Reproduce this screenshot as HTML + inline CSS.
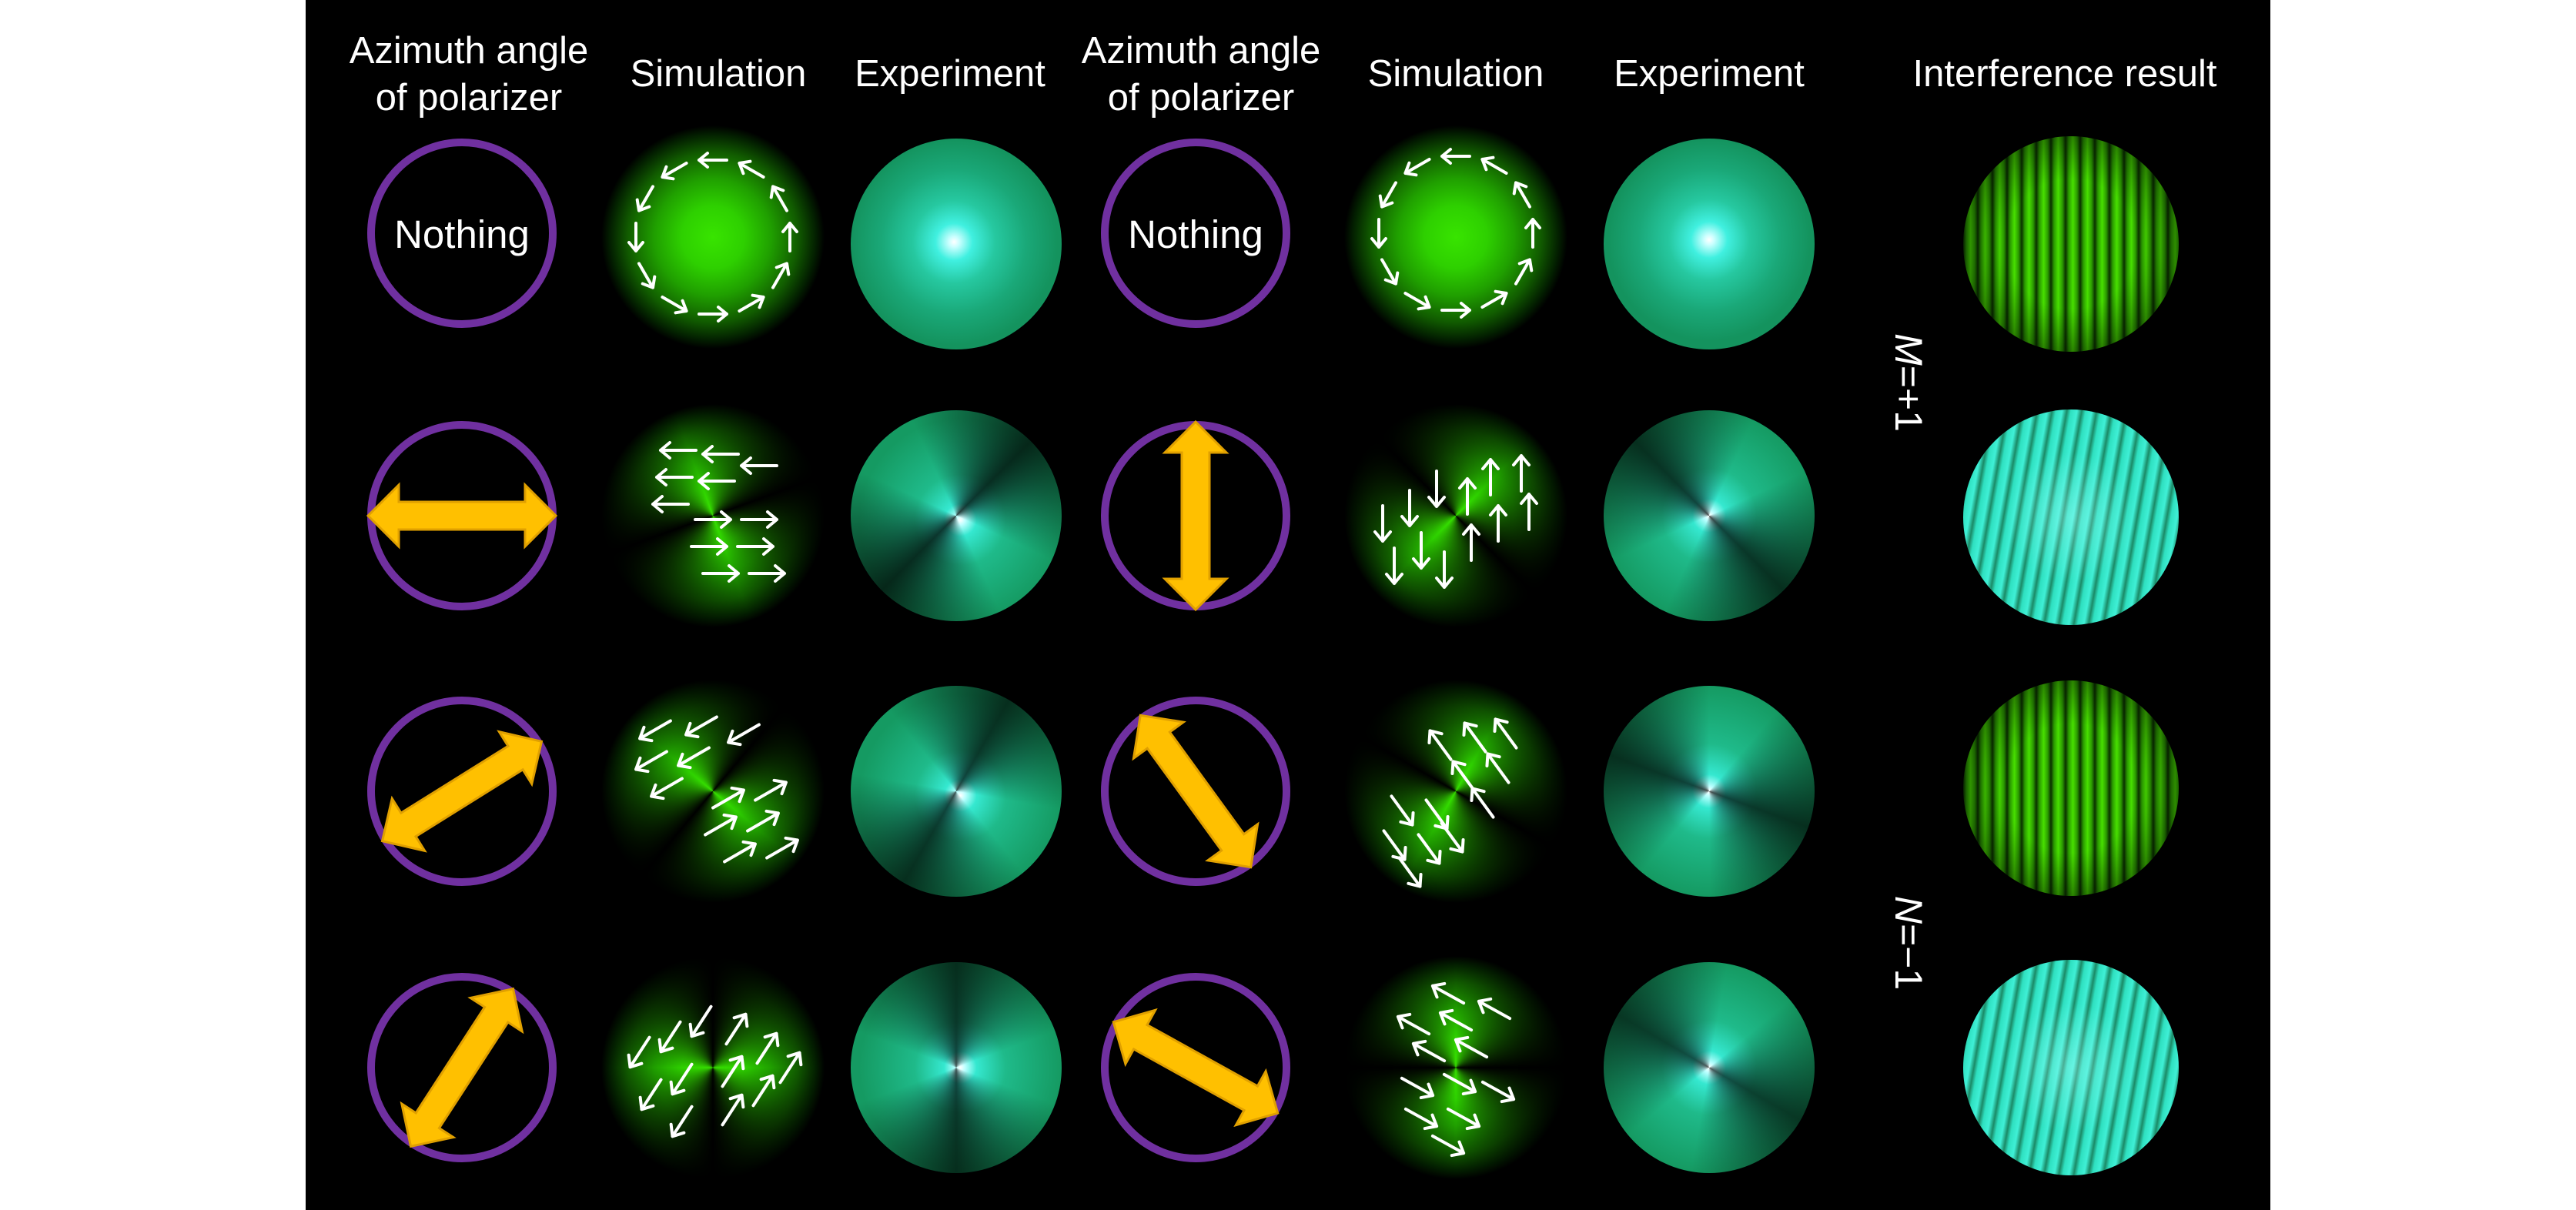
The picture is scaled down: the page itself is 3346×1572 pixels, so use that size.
<!DOCTYPE html>
<html><head><meta charset="utf-8"><style>
html,body{margin:0;padding:0;background:#fff;}
#p{position:relative;width:3346px;height:1572px;overflow:hidden;background:#fff;}
#bk{position:absolute;left:397px;top:0;width:2552px;height:1572px;background:#000;}
.d{position:absolute;border-radius:50%;}
.sim{width:290px;height:290px;background:radial-gradient(circle closest-side,#38e400 0%,#2ed000 28%,#20a000 52%,#115c00 76%,#032000 92%,#000 100%);}
.exp{width:274px;height:274px;}
.ifs{width:280px;height:280px;background:radial-gradient(circle closest-side,rgba(0,0,0,0) 60%,rgba(0,0,0,.4) 100%),repeating-linear-gradient(90deg,#0a3000 0,#2a9a00 4px,#48e000 9.5px,#2a9a00 15px,#0a3000 19px);}
.ife{width:280px;height:280px;background:radial-gradient(circle closest-side,rgba(180,255,255,.35) 0,rgba(0,0,0,0) 60%),repeating-linear-gradient(100deg,#1a8a66 0,#2fe0c0 5px,#3ff0d6 13px,#1a8a66 19px);}
svg{position:absolute;left:0;top:0;}
</style></head><body><div id="p"><div id="bk"></div>
<div class="d sim" style="left:781px;top:163px;"></div>
<div class="d sim" style="left:781px;top:525px;-webkit-mask-image:conic-gradient(from 70deg,rgba(0,0,0,0) 0deg,#000 90deg,rgba(0,0,0,0) 180deg,#000 270deg,rgba(0,0,0,0) 360deg);mask-image:conic-gradient(from 70deg,rgba(0,0,0,0) 0deg,#000 90deg,rgba(0,0,0,0) 180deg,#000 270deg,rgba(0,0,0,0) 360deg);"></div>
<div class="d sim" style="left:781px;top:883px;-webkit-mask-image:conic-gradient(from 40deg,rgba(0,0,0,0) 0deg,#000 90deg,rgba(0,0,0,0) 180deg,#000 270deg,rgba(0,0,0,0) 360deg);mask-image:conic-gradient(from 40deg,rgba(0,0,0,0) 0deg,#000 90deg,rgba(0,0,0,0) 180deg,#000 270deg,rgba(0,0,0,0) 360deg);"></div>
<div class="d sim" style="left:781px;top:1242px;-webkit-mask-image:conic-gradient(from 0deg,rgba(0,0,0,0) 0deg,#000 90deg,rgba(0,0,0,0) 180deg,#000 270deg,rgba(0,0,0,0) 360deg);mask-image:conic-gradient(from 0deg,rgba(0,0,0,0) 0deg,#000 90deg,rgba(0,0,0,0) 180deg,#000 270deg,rgba(0,0,0,0) 360deg);"></div>
<div class="d sim" style="left:1746px;top:163px;"></div>
<div class="d sim" style="left:1746px;top:525px;-webkit-mask-image:conic-gradient(from 135deg,rgba(0,0,0,0) 0deg,#000 90deg,rgba(0,0,0,0) 180deg,#000 270deg,rgba(0,0,0,0) 360deg);mask-image:conic-gradient(from 135deg,rgba(0,0,0,0) 0deg,#000 90deg,rgba(0,0,0,0) 180deg,#000 270deg,rgba(0,0,0,0) 360deg);"></div>
<div class="d sim" style="left:1746px;top:883px;-webkit-mask-image:conic-gradient(from 120deg,rgba(0,0,0,0) 0deg,#000 90deg,rgba(0,0,0,0) 180deg,#000 270deg,rgba(0,0,0,0) 360deg);mask-image:conic-gradient(from 120deg,rgba(0,0,0,0) 0deg,#000 90deg,rgba(0,0,0,0) 180deg,#000 270deg,rgba(0,0,0,0) 360deg);"></div>
<div class="d sim" style="left:1746px;top:1242px;-webkit-mask-image:conic-gradient(from 90deg,rgba(0,0,0,0) 0deg,#000 90deg,rgba(0,0,0,0) 180deg,#000 270deg,rgba(0,0,0,0) 360deg);mask-image:conic-gradient(from 90deg,rgba(0,0,0,0) 0deg,#000 90deg,rgba(0,0,0,0) 180deg,#000 270deg,rgba(0,0,0,0) 360deg);"></div>
<div class="d exp" style="left:1105px;top:180px;background:radial-gradient(circle closest-side at 49% 49%,#fff 0,#cff 5%,#40f0e0 18%,#26c8a0 40%,#1aa878 70%,#14935e 100%);"></div>
<div class="d exp" style="left:1105px;top:533px;background:conic-gradient(from 45deg,rgba(0,0,0,.75) 0deg,rgba(0,0,0,0) 70deg,rgba(0,0,0,0) 110deg,rgba(0,0,0,.75) 180deg,rgba(0,0,0,0) 250deg,rgba(0,0,0,0) 290deg,rgba(0,0,0,.75) 360deg),radial-gradient(circle closest-side at 52% 52%,#fff 0,#bff 5%,#35e8d0 16%,#1fba8a 45%,#159a62 100%);"></div>
<div class="d exp" style="left:1105px;top:891px;background:conic-gradient(from 30deg,rgba(0,0,0,.7) 0deg,rgba(0,0,0,0) 70deg,rgba(0,0,0,0) 110deg,rgba(0,0,0,.7) 180deg,rgba(0,0,0,0) 250deg,rgba(0,0,0,0) 290deg,rgba(0,0,0,.7) 360deg),radial-gradient(circle closest-side at 52% 52%,#fff 0,#bff 5%,#35e8d0 16%,#1fba8a 45%,#159a62 100%);"></div>
<div class="d exp" style="left:1105px;top:1250px;background:conic-gradient(from 0deg,rgba(0,0,0,.7) 0deg,rgba(0,0,0,0) 70deg,rgba(0,0,0,0) 110deg,rgba(0,0,0,.7) 180deg,rgba(0,0,0,0) 250deg,rgba(0,0,0,0) 290deg,rgba(0,0,0,.7) 360deg),radial-gradient(circle closest-side at 52% 50%,#fff 0,#bff 5%,#35e8d0 16%,#1fba8a 45%,#159a62 100%);"></div>
<div class="d exp" style="left:2083px;top:180px;background:radial-gradient(circle closest-side at 50% 48%,#fff 0,#cff 5%,#40f0e0 18%,#26c8a0 40%,#1aa878 70%,#14935e 100%);"></div>
<div class="d exp" style="left:2083px;top:533px;background:conic-gradient(from 315deg,rgba(0,0,0,.7) 0deg,rgba(0,0,0,0) 70deg,rgba(0,0,0,0) 110deg,rgba(0,0,0,.7) 180deg,rgba(0,0,0,0) 250deg,rgba(0,0,0,0) 290deg,rgba(0,0,0,.7) 360deg),radial-gradient(circle closest-side at 50% 50%,#fff 0,#bff 5%,#35e8d0 16%,#1fba8a 45%,#159a62 100%);"></div>
<div class="d exp" style="left:2083px;top:891px;background:conic-gradient(from 290deg,rgba(0,0,0,.7) 0deg,rgba(0,0,0,0) 70deg,rgba(0,0,0,0) 110deg,rgba(0,0,0,.7) 180deg,rgba(0,0,0,0) 250deg,rgba(0,0,0,0) 290deg,rgba(0,0,0,.7) 360deg),radial-gradient(circle closest-side at 50% 50%,#fff 0,#bff 5%,#35e8d0 16%,#1fba8a 45%,#159a62 100%);"></div>
<div class="d exp" style="left:2083px;top:1250px;background:conic-gradient(from 300deg,rgba(0,0,0,.65) 0deg,rgba(0,0,0,0) 70deg,rgba(0,0,0,0) 110deg,rgba(0,0,0,.65) 180deg,rgba(0,0,0,0) 250deg,rgba(0,0,0,0) 290deg,rgba(0,0,0,.65) 360deg),radial-gradient(circle closest-side at 50% 50%,#fff 0,#bff 5%,#35e8d0 16%,#1fba8a 45%,#159a62 100%);"></div>
<div class="d ifs" style="left:2550px;top:177px;"></div>
<div class="d ife" style="left:2550px;top:532px;"></div>
<div class="d ifs" style="left:2550px;top:884px;"></div>
<div class="d ife" style="left:2550px;top:1247px;"></div>

<svg width="3346" height="1572" viewBox="0 0 3346 1572">
<defs>
<g id="a"><path d="M-23 0H23M11-10L23 0L11 10" fill="none" stroke="#fff" stroke-width="4" stroke-linecap="round" stroke-linejoin="round"/></g>
<g id="b"><path d="M-18 0H18M7-9L18 0L7 9" fill="none" stroke="#fff" stroke-width="4" stroke-linecap="round" stroke-linejoin="round"/></g>
<polygon id="y" points="-122,0 -82,-40 -82,-18 82,-18 82,-40 122,0 82,40 82,18 -82,18 -82,40" fill="#ffc000" stroke="#e0a000" stroke-width="3"/>
<g id="r"><use href="#b" transform="translate(100,0) rotate(-90)"/><use href="#b" transform="translate(87,50) rotate(-60)"/><use href="#b" transform="translate(50,87) rotate(-30)"/><use href="#b" transform="translate(0,100)"/><use href="#b" transform="translate(-50,87) rotate(30)"/><use href="#b" transform="translate(-87,50) rotate(60)"/><use href="#b" transform="translate(-100,0) rotate(90)"/><use href="#b" transform="translate(-87,-50) rotate(120)"/><use href="#b" transform="translate(-50,-87) rotate(150)"/><use href="#b" transform="translate(0,-100) rotate(180)"/><use href="#b" transform="translate(50,-87) rotate(210)"/><use href="#b" transform="translate(87,-50) rotate(240)"/></g>
</defs>
<g font-family="Liberation Sans, Arial, sans-serif" fill="#fff" font-size="49" text-anchor="middle">
<text x="609" y="82">Azimuth angle</text><text x="609" y="143">of polarizer</text>
<text x="933" y="112">Simulation</text><text x="1234" y="112">Experiment</text>
<text x="1560" y="82">Azimuth angle</text><text x="1560" y="143">of polarizer</text>
<text x="1891" y="112">Simulation</text><text x="2220" y="112">Experiment</text>
<text x="2682" y="112">Interference result</text>
<text x="600" y="322" font-size="51">Nothing</text>
<text x="1553" y="322" font-size="51">Nothing</text>
<text transform="translate(2462,497) rotate(90)" font-size="50"><tspan font-style="italic">M</tspan>=+1</text>
<text transform="translate(2462,1225) rotate(90)" font-size="50"><tspan font-style="italic">N</tspan>=−1</text>
</g>
<g fill="none" stroke="#7030a0" stroke-width="10">
<circle cx="600" cy="303" r="118"/><circle cx="600" cy="670" r="118"/><circle cx="600" cy="1028" r="118"/><circle cx="600" cy="1387" r="118"/>
<circle cx="1553" cy="303" r="118"/><circle cx="1553" cy="670" r="118"/><circle cx="1553" cy="1028" r="118"/><circle cx="1553" cy="1387" r="118"/>
</g>
<use href="#y" transform="translate(600,670)"/>
<use href="#y" transform="translate(600,1028) rotate(-32)"/>
<use href="#y" transform="translate(600,1387) rotate(-57)"/>
<use href="#y" transform="translate(1553,670) rotate(90)"/>
<use href="#y" transform="translate(1553,1028) rotate(54)"/>
<use href="#y" transform="translate(1553,1387) rotate(29)"/>
<use href="#r" transform="translate(926,308)"/>
<use href="#r" transform="translate(1891,303)"/>
<g transform="translate(926,670)">
<use href="#a" transform="translate(-45,-85) rotate(180)"/><use href="#a" transform="translate(10,-80) rotate(180)"/><use href="#a" transform="translate(-50,-50) rotate(180)"/><use href="#a" transform="translate(5,-45) rotate(180)"/><use href="#a" transform="translate(-55,-15) rotate(180)"/><use href="#a" transform="translate(60,-65) rotate(180)"/>
<use href="#a" transform="translate(0,5)"/><use href="#a" transform="translate(60,5)"/><use href="#a" transform="translate(-5,40)"/><use href="#a" transform="translate(55,40)"/><use href="#a" transform="translate(10,75)"/><use href="#a" transform="translate(70,75)"/>
</g>
<g transform="translate(926,1028)">
<use href="#a" transform="translate(-75,-80) rotate(150)"/><use href="#a" transform="translate(-15,-85) rotate(150)"/><use href="#a" transform="translate(-80,-40) rotate(150)"/><use href="#a" transform="translate(-25,-45) rotate(150)"/><use href="#a" transform="translate(-60,-5) rotate(150)"/><use href="#a" transform="translate(40,-75) rotate(150)"/>
<use href="#a" transform="translate(20,10) rotate(-30)"/><use href="#a" transform="translate(75,0) rotate(-30)"/><use href="#a" transform="translate(10,45) rotate(-30)"/><use href="#a" transform="translate(65,40) rotate(-30)"/><use href="#a" transform="translate(35,80) rotate(-30)"/><use href="#a" transform="translate(90,75) rotate(-30)"/>
</g>
<g transform="translate(926,1387)">
<use href="#a" transform="translate(-95,-20) rotate(123)"/><use href="#a" transform="translate(-55,-40) rotate(123)"/><use href="#a" transform="translate(-15,-60) rotate(123)"/><use href="#a" transform="translate(-80,35) rotate(123)"/><use href="#a" transform="translate(-40,15) rotate(123)"/><use href="#a" transform="translate(-40,70) rotate(123)"/>
<use href="#a" transform="translate(30,-50) rotate(-57)"/><use href="#a" transform="translate(70,-25) rotate(-57)"/><use href="#a" transform="translate(25,5) rotate(-57)"/><use href="#a" transform="translate(65,30) rotate(-57)"/><use href="#a" transform="translate(100,0) rotate(-57)"/><use href="#a" transform="translate(25,55) rotate(-57)"/>
</g>
<g transform="translate(1891,670)">
<use href="#a" transform="translate(-95,10) rotate(90)"/><use href="#a" transform="translate(-60,-10) rotate(90)"/><use href="#a" transform="translate(-25,-35) rotate(90)"/><use href="#a" transform="translate(-80,65) rotate(90)"/><use href="#a" transform="translate(-45,45) rotate(90)"/><use href="#a" transform="translate(-15,70) rotate(90)"/>
<use href="#a" transform="translate(15,-25) rotate(-90)"/><use href="#a" transform="translate(45,-50) rotate(-90)"/><use href="#a" transform="translate(85,-55) rotate(-90)"/><use href="#a" transform="translate(20,35) rotate(-90)"/><use href="#a" transform="translate(55,10) rotate(-90)"/><use href="#a" transform="translate(95,-5) rotate(-90)"/>
</g>
<g transform="translate(1891,1028)">
<use href="#a" transform="translate(-20,-60) rotate(-126)"/><use href="#a" transform="translate(25,-70) rotate(-126)"/><use href="#a" transform="translate(65,-75) rotate(-126)"/><use href="#a" transform="translate(10,-20) rotate(-126)"/><use href="#a" transform="translate(55,-30) rotate(-126)"/><use href="#a" transform="translate(35,15) rotate(-126)"/>
<use href="#a" transform="translate(-70,25) rotate(54)"/><use href="#a" transform="translate(-25,30) rotate(54)"/><use href="#a" transform="translate(-80,70) rotate(54)"/><use href="#a" transform="translate(-35,75) rotate(54)"/><use href="#a" transform="translate(-60,105) rotate(54)"/><use href="#a" transform="translate(-5,60) rotate(54)"/>
</g>
<g transform="translate(1891,1387)">
<use href="#a" transform="translate(-55,-55) rotate(-151)"/><use href="#a" transform="translate(0,-60) rotate(-151)"/><use href="#a" transform="translate(50,-75) rotate(-151)"/><use href="#a" transform="translate(-35,-20) rotate(-151)"/><use href="#a" transform="translate(20,-25) rotate(-151)"/><use href="#a" transform="translate(-10,-95) rotate(-151)"/>
<use href="#a" transform="translate(-50,25) rotate(29)"/><use href="#a" transform="translate(5,20) rotate(29)"/><use href="#a" transform="translate(55,30) rotate(29)"/><use href="#a" transform="translate(-45,65) rotate(29)"/><use href="#a" transform="translate(10,65) rotate(29)"/><use href="#a" transform="translate(-10,100) rotate(29)"/>
</g>
</svg></div></body></html>
